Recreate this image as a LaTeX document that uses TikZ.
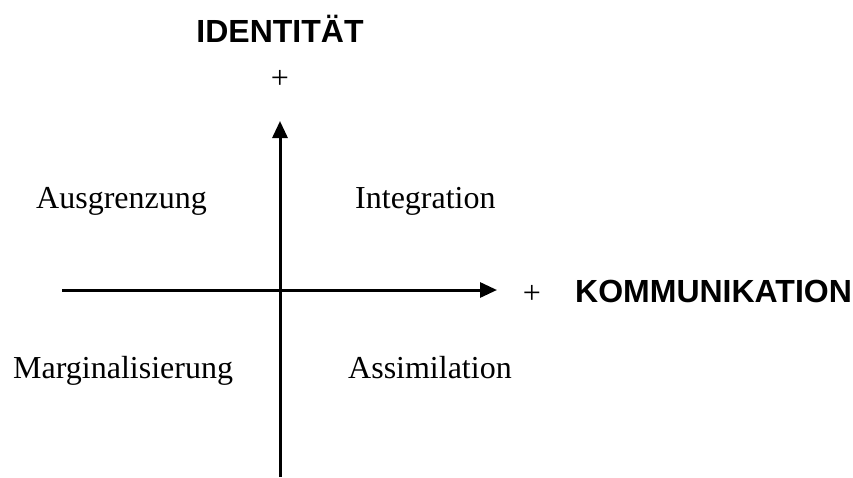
\documentclass[tikz,border=0pt]{standalone}
\usepackage{fontspec}
\setmainfont{Liberation Serif}
\newfontfamily\headfont{Liberation Sans}
\usetikzlibrary{arrows.meta}
\tikzset{
  lbl/.style={inner sep=0pt, anchor=base west, font=\fontsize{32}{38}\selectfont},
  head/.style={inner sep=0pt, anchor=base, font=\headfont\bfseries\fontsize{32}{38}\selectfont},
  plus/.style={inner sep=0pt, anchor=base, font=\fontsize{32}{38}\selectfont},
  axis/.style={line width=3pt, -{Triangle[length=17pt,width=15pt]}}
}
\begin{document}
\begin{tikzpicture}[x=1pt,y=-1pt]
\useasboundingbox (0,0) rectangle (853,477);
\coordinate (vb) at (280,477);
\coordinate (vt) at (280,121);
\coordinate (hl) at (62,290);
\coordinate (hr) at (497,290);
\draw[axis] (vb) -- (vt);
\draw[axis] (hl) -- (hr);
\node[head] (idt) at (280,42) {IDENTITÄT};
\node[plus] (ptop) at (280,88) {+};
\node[plus] (pright) at (532,303) {+};
\node[head, anchor=base west] (komm) at (575,302) {KOMMUNIKATION};
\node[lbl] (ausg) at (36,208) {Ausgrenzung};
\node[lbl] (integ) at (355,208) {Integration};
\node[lbl] (marg) at (13,378) {Marginalisierung};
\node[lbl] (assim) at (348,378) {Assimilation};
\end{tikzpicture}
\end{document}
